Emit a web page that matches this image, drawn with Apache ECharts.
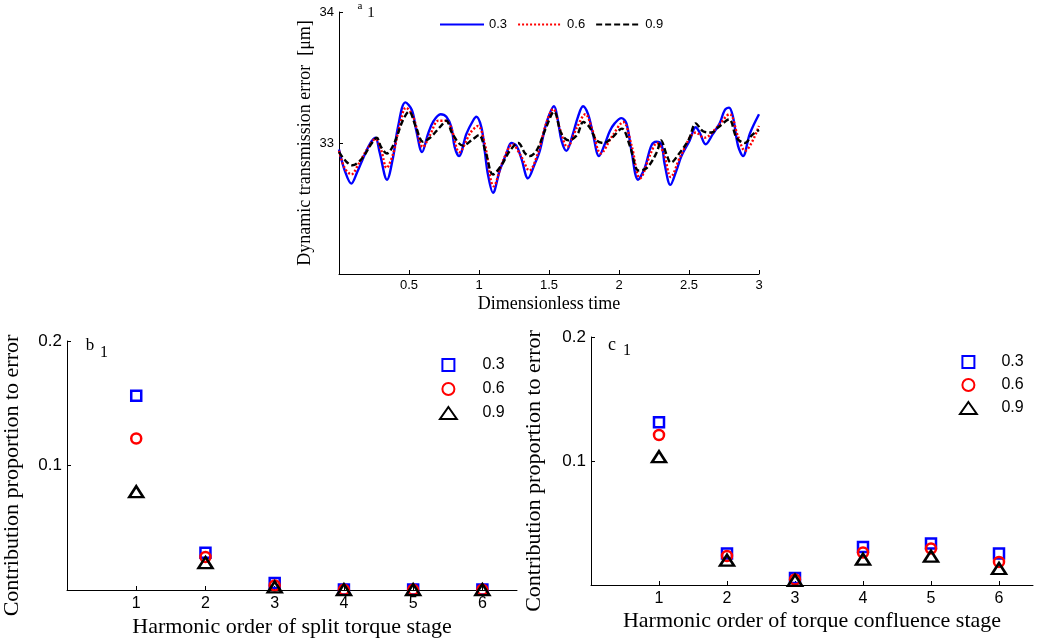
<!DOCTYPE html>
<html><head><meta charset="utf-8">
<script src="https://cdn.jsdelivr.net/npm/echarts@6/dist/echarts.min.js"></script>
<style>html,body{margin:0;padding:0;background:#fff}#c{width:1040px;height:644px}</style>
</head><body><div id="c"></div><script>
// ---------- data ----------
const seriesLabels = ['0.3', '0.6', '0.9'];

// (a) dynamic transmission error vs dimensionless time
const timeA03 = [0, 0.041, 0.088, 0.131, 0.171, 0.219, 0.26, 0.29, 0.343, 0.386, 0.421, 0.474, 0.521, 0.553, 0.593, 0.636, 0.671, 0.726, 0.767, 0.803, 0.826, 0.857, 0.91, 0.957, 0.981, 1.017, 1.041, 1.064, 1.1, 1.148, 1.196, 1.231, 1.267, 1.303, 1.35, 1.398, 1.434, 1.481, 1.536, 1.564, 1.589, 1.624, 1.671, 1.707, 1.743, 1.779, 1.814, 1.857, 1.898, 1.934, 1.969, 2.017, 2.053, 2.089, 2.136, 2.184, 2.231, 2.267, 2.303, 2.326, 2.367, 2.41, 2.446, 2.505, 2.548, 2.576, 2.619, 2.671, 2.719, 2.755, 2.786, 2.814, 2.85, 2.886, 2.934, 3.0];
const errA03 = [32.95, 32.79, 32.69, 32.78, 32.88, 32.99, 33.04, 32.93, 32.72, 32.89, 33.12, 33.31, 33.25, 33.09, 32.93, 33.07, 33.16, 33.22, 33.2, 33.12, 32.97, 32.9, 33.07, 33.17, 33.2, 33.12, 32.94, 32.76, 32.62, 32.79, 32.92, 33.0, 32.98, 32.88, 32.73, 32.84, 32.94, 33.15, 33.28, 33.17, 33.02, 32.94, 33.07, 33.2, 33.28, 33.22, 33.07, 32.9, 32.99, 33.09, 33.15, 33.19, 33.15, 32.94, 32.72, 32.81, 32.98, 33.01, 32.99, 32.84, 32.68, 32.79, 32.9, 33.02, 33.12, 33.08, 32.99, 33.07, 33.15, 33.25, 33.27, 33.2, 32.98, 32.9, 33.07, 33.22];

const timeA06 = [0, 0.04, 0.088, 0.14, 0.2, 0.26, 0.3, 0.34, 0.39, 0.43, 0.479, 0.53, 0.6, 0.65, 0.71, 0.76, 0.8, 0.86, 0.94, 0.993, 1.04, 1.105, 1.17, 1.24, 1.3, 1.36, 1.42, 1.48, 1.53, 1.58, 1.63, 1.7, 1.76, 1.81, 1.87, 1.95, 2.03, 2.09, 2.15, 2.23, 2.27, 2.32, 2.37, 2.44, 2.55, 2.61, 2.7, 2.79, 2.85, 2.9, 3.0];
const errA06 = [32.94, 32.81, 32.76, 32.84, 32.95, 33.03, 32.95, 32.81, 32.93, 33.12, 33.27, 33.2, 32.97, 33.06, 33.17, 33.17, 33.12, 32.93, 33.08, 33.13, 33.0, 32.67, 32.86, 32.99, 32.9, 32.79, 32.92, 33.15, 33.26, 33.1, 32.97, 33.12, 33.22, 33.1, 32.92, 33.05, 33.16, 32.98, 32.73, 32.93, 33.0, 32.92, 32.74, 32.9, 33.08, 33.04, 33.12, 33.22, 33.05, 32.94, 33.13];

const timeA09 = [0, 0.05, 0.095, 0.163, 0.235, 0.27, 0.3, 0.342, 0.395, 0.455, 0.5, 0.55, 0.6, 0.65, 0.72, 0.767, 0.81, 0.886, 0.957, 1.0, 1.05, 1.1, 1.16, 1.22, 1.28, 1.33, 1.36, 1.41, 1.48, 1.536, 1.589, 1.64, 1.7, 1.745, 1.79, 1.84, 1.89, 1.95, 2.02, 2.08, 2.14, 2.2, 2.27, 2.3, 2.34, 2.37, 2.43, 2.5, 2.548, 2.6, 2.66, 2.71, 2.786, 2.84, 2.9, 2.95, 3.0];
const errA09 = [32.93, 32.86, 32.83, 32.88, 33.0, 33.04, 32.97, 32.92, 33.0, 33.17, 33.24, 33.12, 33.01, 33.04, 33.12, 33.17, 33.07, 32.98, 33.03, 33.06, 32.92, 32.76, 32.83, 32.94, 33.0, 32.92, 32.9, 32.94, 33.12, 33.24, 33.07, 33.02, 33.06, 33.16, 33.12, 33.02, 33.0, 33.04, 33.11, 32.97, 32.79, 32.81, 32.93, 33.02, 32.91, 32.85, 32.92, 33.03, 33.15, 33.09, 33.08, 33.12, 33.18, 33.04, 33.0, 33.06, 33.1];

const timeTicks = [0.5, 1, 1.5, 2, 2.5, 3];
const errTicks = [33, 34];

// (b), (c) contribution proportion to error vs harmonic order
const harmonicOrders = [1, 2, 3, 4, 5, 6];
const contribTicks = [0.1, 0.2];
const splitB03 = [0.156, 0.030, 0.0056, 0.0004, 0.0004, 0.0004];
const splitB06 = [0.1217, 0.0265, 0.0037, 0.0003, 0.0003, 0.0003];
const splitB09 = [0.079, 0.022, 0.0025, 0.0003, 0.0003, 0.0003];
const confC03 = [0.1313, 0.0254, 0.0057, 0.0307, 0.0335, 0.0254];
const confC06 = [0.121, 0.0234, 0.0044, 0.0262, 0.0294, 0.0186];
const confC09 = [0.1035, 0.020, 0.0038, 0.0208, 0.0232, 0.0133];

// ---------- chart ----------
const SERIF = '"Liberation Serif","Times New Roman",serif';
const SANS = '"Liberation Sans",Arial,sans-serif';
const zip = (xs, ys) => xs.map((x, i) => [x, ys[i]]);

function valueAxis(o) {
  return Object.assign({
    type: 'value',
    axisLine: { onZero: false, lineStyle: { color: '#000', width: 1 } },
    splitLine: { show: false },
    nameLocation: 'middle',
  }, o);
}
function ticks(vals) {
  return { inside: true, length: 4, customValues: vals, lineStyle: { color: '#000' } };
}
function labels(vals, size, margin) {
  return { customValues: vals, color: '#000', fontFamily: SANS, fontSize: size, margin: margin };
}

const chart = echarts.init(document.getElementById('c'), null, { renderer: 'canvas' });

const lineColors = ['#0000ff', '#ff0000', '#000000'];
const lineTypes = ['solid', [2, 2], [6, 3]];
const topData = [[timeA03, errA03], [timeA06, errA06], [timeA09, errA09]];

const scatterColors = ['#0000ff', '#ff0000', '#000000'];
const scatterSymbols = ['rect', 'circle', 'triangle'];
const scatterSizes = [10, 10, [14, 11]];
const legendIcons = [
  'path://M0,0H10V10H0Z',
  'path://M5,0A5,5,0,1,1,5,10A5,5,0,1,1,5,0Z',
  'path://M7,0L14,10L0,10Z'
];
const bData = [splitB03, splitB06, splitB09];
const cData = [confC03, confC06, confC09];

const series = [];
topData.forEach((d, i) => {
  series.push({
    name: 'a|' + seriesLabels[i], type: 'line', xAxisIndex: 0, yAxisIndex: 0,
    data: zip(d[0], d[1]), symbol: 'none', showSymbol: false, smooth: 0.35,
    lineStyle: { color: lineColors[i], width: 2.4, type: lineTypes[i] },
    itemStyle: { color: lineColors[i] }, animation: false
  });
});
[[bData, 1, 'b'], [cData, 2, 'c']].forEach(([set, gi, p]) => {
  set.forEach((vals, i) => {
    series.push({
      name: p + '|' + seriesLabels[i], type: 'scatter', xAxisIndex: gi, yAxisIndex: gi,
      data: zip(harmonicOrders, vals), symbol: scatterSymbols[i], symbolSize: scatterSizes[i],
      itemStyle: { color: 'rgba(0,0,0,0)', borderColor: scatterColors[i], borderWidth: 2.5, opacity: 1 },
      animation: false
    });
  });
});

const legendFmt = n => n.split('|')[1];

chart.setOption({
  animation: false,
  backgroundColor: '#fff',
  grid: [
    { left: 339, top: 12, width: 420, height: 262 },
    { left: 67, top: 341, width: 450, height: 249 },
    { left: 591, top: 337, width: 442, height: 248 }
  ],
  xAxis: [
    valueAxis({ gridIndex: 0, min: 0, max: 3, name: 'Dimensionless time', nameGap: 21,
      nameTextStyle: { fontFamily: SERIF, fontSize: 18, color: '#000' },
      axisTick: ticks(timeTicks), axisLabel: labels(timeTicks, 13, 5) }),
    valueAxis({ gridIndex: 1, min: 0, max: 6.5, name: 'Harmonic order of split torque stage', nameGap: 26,
      nameTextStyle: { fontFamily: SERIF, fontSize: 22, color: '#000' },
      axisTick: ticks(harmonicOrders), axisLabel: labels(harmonicOrders, 16, 6) }),
    valueAxis({ gridIndex: 2, min: 0, max: 6.5, name: 'Harmonic order of torque confluence stage', nameGap: 25,
      nameTextStyle: { fontFamily: SERIF, fontSize: 22, color: '#000' },
      axisTick: ticks(harmonicOrders), axisLabel: labels(harmonicOrders, 16, 6) })
  ],
  yAxis: [
    valueAxis({ gridIndex: 0, min: 32, max: 34, name: 'Dynamic transmission error  [\u03bcm]', nameGap: 25,
      nameTextStyle: { fontFamily: SERIF, fontSize: 18, color: '#000' },
      axisTick: ticks(errTicks), axisLabel: labels(errTicks, 13, 5) }),
    valueAxis({ gridIndex: 1, min: 0, max: 0.2, name: 'Contribution proportion to error', nameGap: 44,
      nameTextStyle: { fontFamily: SERIF, fontSize: 22, color: '#000', padding: [0, 20, 0, 0] },
      axisTick: ticks(contribTicks), axisLabel: labels(contribTicks, 17, 5) }),
    valueAxis({ gridIndex: 2, min: 0, max: 0.2, name: 'Contribution proportion to error', nameGap: 46,
      nameTextStyle: { fontFamily: SERIF, fontSize: 22, color: '#000', padding: [0, 20, 0, 0] },
      axisTick: ticks(contribTicks), axisLabel: labels(contribTicks, 17, 5) })
  ],
  legend: [
    { data: seriesLabels.map(s => 'a|' + s), formatter: legendFmt, orient: 'horizontal',
      left: 439, top: 18, padding: 0, itemWidth: 44, itemHeight: 14, itemGap: 10,
      itemStyle: { opacity: 0 },
      textStyle: { fontFamily: SANS, fontSize: 13, color: '#000' }, selectedMode: false },
    { data: seriesLabels.map((s, i) => ({ name: 'b|' + s, icon: legendIcons[i] })), formatter: legendFmt, orient: 'vertical',
      left: 439, top: 357, padding: 0, itemWidth: 58, itemHeight: 12, itemGap: 8,
      textStyle: { fontFamily: SANS, fontSize: 16, color: '#000' }, selectedMode: false },
    { data: seriesLabels.map((s, i) => ({ name: 'c|' + s, icon: legendIcons[i] })), formatter: legendFmt, orient: 'vertical',
      left: 959, top: 354, padding: 0, itemWidth: 56, itemHeight: 12, itemGap: 7,
      textStyle: { fontFamily: SANS, fontSize: 16, color: '#000' }, selectedMode: false }
  ],
  graphic: [
    { type: 'text', x: 360, y: 6, style: { text: 'a', font: '11px ' + SERIF, fill: '#000', align: 'center', verticalAlign: 'middle' } },
    { type: 'text', x: 371, y: 13, style: { text: '1', font: '15px ' + SERIF, fill: '#000', align: 'center', verticalAlign: 'middle' } },
    { type: 'text', x: 90, y: 346, style: { text: 'b', font: '17px ' + SERIF, fill: '#000', align: 'center', verticalAlign: 'middle' } },
    { type: 'text', x: 104, y: 353, style: { text: '1', font: '16px ' + SERIF, fill: '#000', align: 'center', verticalAlign: 'middle' } },
    { type: 'text', x: 612, y: 345, style: { text: 'c', font: '18px ' + SERIF, fill: '#000', align: 'center', verticalAlign: 'middle' } },
    { type: 'text', x: 627, y: 351, style: { text: '1', font: '16px ' + SERIF, fill: '#000', align: 'center', verticalAlign: 'middle' } }
  ],
  series: series
});
</script></body></html>
